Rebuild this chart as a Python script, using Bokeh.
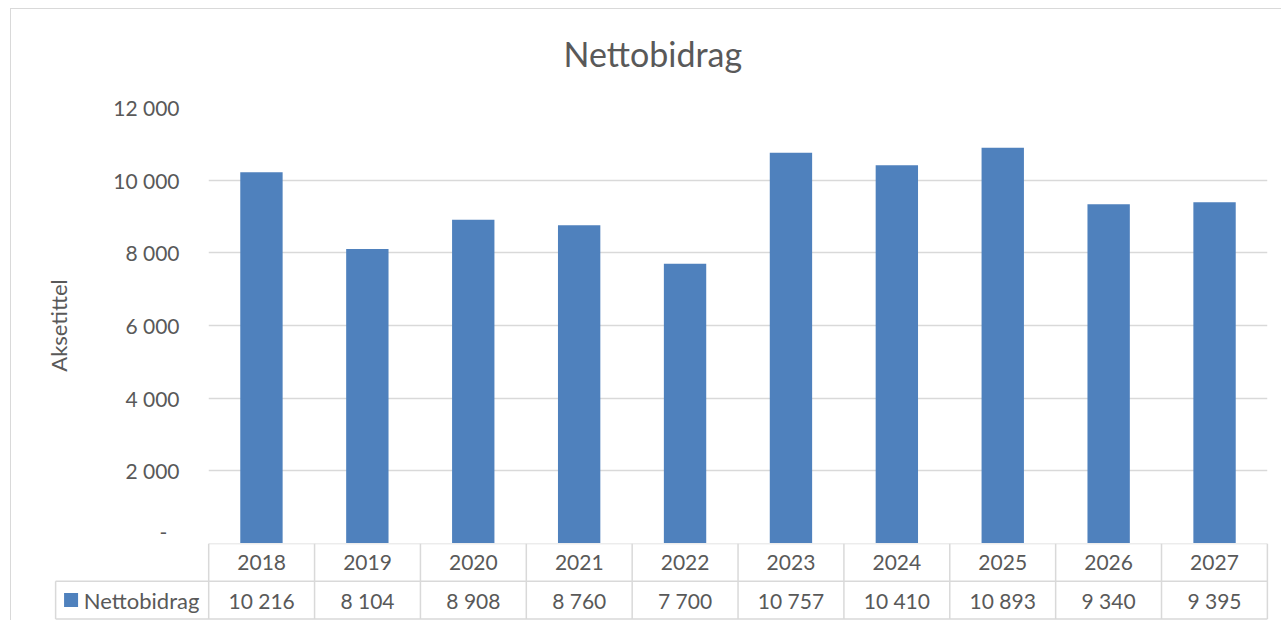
from bokeh.plotting import figure
from bokeh.models import Range1d, FixedTicker, CustomJSTickFormatter, FactorRange, Title
from bokeh.layouts import column
from bokeh.embed import file_html
from bokeh.resources import INLINE
from bokeh.core.properties import value

# ---- data ----
years = ["2018", "2019", "2020", "2021", "2022", "2023", "2024", "2025", "2026", "2027"]
nettobidrag = [10216, 8104, 8908, 8760, 7700, 10757, 10410, 10893, 9340, 9395]
series_name = "Nettobidrag"
y_ticks = [0, 2000, 4000, 6000, 8000, 10000, 12000]
chart_title = "Nettobidrag"
y_axis_title = "Aksetittel"

# ---- style ----
FONT = "Lato"
TEXT = "#595959"
GRID = "#D9D9D9"
BAR = "#4F81BD"
LEGEND_W = 1.446  # legend cell width in column units

def fmt(v):
    return f"{v:,}".replace(",", " ")

n = len(years)

# ---- main chart ----
p1 = figure(width=1270, height=534, x_range=FactorRange(*years), y_range=Range1d(0, 12000),
            x_axis_location=None, output_backend="svg", toolbar_location=None,
            min_border_left=197, min_border_right=14, min_border_top=98, min_border_bottom=0)
p1.frame_align = False
p1.outline_line_color = None
p1.xgrid.visible = False
p1.ygrid.grid_line_color = GRID
p1.ygrid.grid_line_width = 1.5

p1.vbar(x=years, top=nettobidrag, width=0.4, fill_color=BAR, line_color=None)

ax = p1.yaxis[0]
ax.ticker = FixedTicker(ticks=y_ticks)
ax.formatter = CustomJSTickFormatter(code="""
if (tick == 0) { return "-\u2007"; }
return String(tick).replace(/\\B(?=(\\d{3})+(?!\\d))/g, " ");
""")
ax.axis_line_color = None
ax.major_tick_line_color = None
ax.major_tick_out = 0
ax.major_tick_in = 0
ax.minor_tick_line_color = None
ax.minor_tick_out = 0
ax.major_label_standoff = 29
ax.major_label_text_font = FONT
ax.major_label_text_font_size = "21px"
ax.major_label_text_color = TEXT
ax.axis_label = y_axis_title
ax.axis_label_text_font = FONT
ax.axis_label_text_font_size = "22px"
ax.axis_label_text_font_style = "normal"
ax.axis_label_text_color = TEXT
ax.axis_label_standoff = 38

# spacer between title and plot area
p1.add_layout(Title(text=" ", text_font_size="1px", standoff=31), "above")

p1.title.text = chart_title
p1.title.align = "left"
p1.title.offset = 355
p1.title.vertical_align = "bottom"
p1.title.standoff = 0
p1.title.text_font = FONT
p1.title.text_font_size = "34px"
p1.title.text_font_style = "normal"
p1.title.text_color = TEXT

# ---- data table ----
p2 = figure(width=1270, height=77, x_range=Range1d(-LEGEND_W - 0.02, n + 0.02),
            y_range=Range1d(-0.04, 2.0), x_axis_location=None, y_axis_location=None,
            output_backend="svg", toolbar_location=None,
            min_border_left=42, min_border_right=12, min_border_top=0, min_border_bottom=0)
p2.frame_align = False
p2.outline_line_color = None
p2.grid.visible = False

hx0 = [0, -LEGEND_W, -LEGEND_W]
hx1 = [n, n, n]
hy = [2, 1, 0]
p2.segment(x0=hx0, y0=hy, x1=hx1, y1=hy, line_color=GRID, line_width=1.5)
vx = list(range(n + 1)) + [-LEGEND_W]
vy0 = [0] * (n + 1) + [0]
vy1 = [2] * (n + 1) + [1]
p2.segment(x0=vx, y0=vy0, x1=vx, y1=vy1, line_color=GRID, line_width=1.5)

xs = [i + 0.5 for i in range(n)]
p2.text(x=xs, y=[1.5] * n, text=years, text_align="center", text_baseline="middle",
        text_font=value(FONT), text_font_size="21px", text_color=TEXT)
p2.text(x=xs, y=[0.5] * n, text=[fmt(v) for v in nettobidrag], text_align="center",
        text_baseline="middle", text_font=value(FONT), text_font_size="21px", text_color=TEXT)

p2.scatter(x=[-1.30], y=[0.5], marker="square", size=14, fill_color=BAR, line_color=None)
p2.text(x=[-1.18], y=[0.5], text=[series_name], text_align="left", text_baseline="middle",
        text_font=value(FONT), text_font_size="22px", text_color=TEXT)

layout = column(p1, p2, margin=(8, 0, 0, 10),
                styles={"border-left": "1px solid #D9D9D9", "border-top": "1px solid #D9D9D9"})

open("out.html", "w").write(file_html(layout, INLINE))
